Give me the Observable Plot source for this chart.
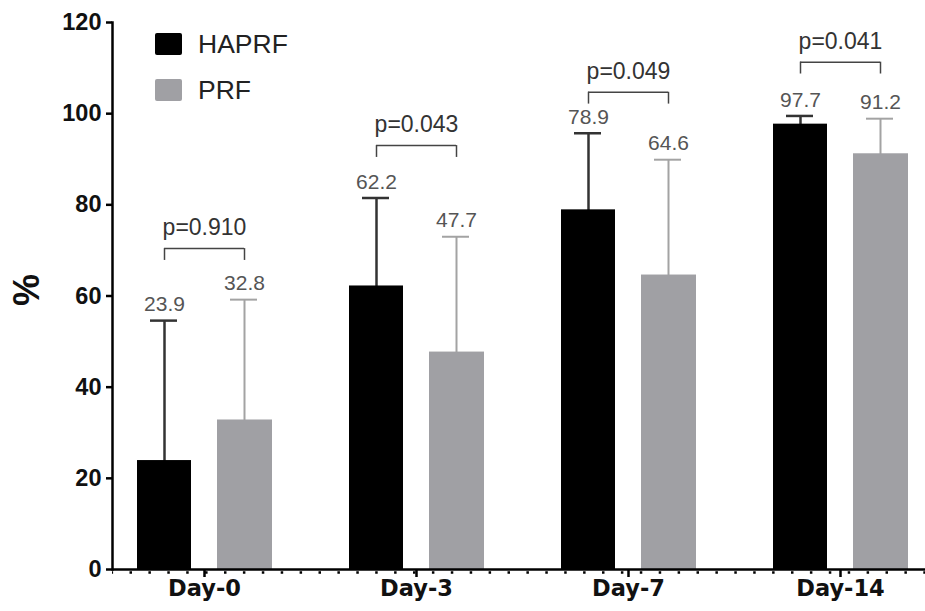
<!DOCTYPE html>
<html>
<head>
<meta charset="utf-8">
<script src="https://cdn.jsdelivr.net/npm/d3@7"></script>
<script src="https://cdn.jsdelivr.net/npm/@observablehq/plot@0.6"></script>
<style>
  body { margin: 0; background: #fff; }
  #wrap { position: relative; width: 925px; height: 611px; font-family: "Liberation Sans", Arial, sans-serif; }
  #wrap svg [aria-label*="y-axis"] path,
  #wrap svg [aria-label*="y-axis"] line,
  #wrap svg [aria-label*="x-axis"] path,
  #wrap svg [aria-label*="x-axis"] line,
  #wrap svg [aria-label="frame"] { stroke-width: 2.5px; stroke: #000; }
  #wrap svg g[aria-label*="y-axis"],
  #wrap svg g[aria-label*="y-axis"] text { font-size: 23.5px; font-weight: bold; fill: #111; font-family: "Liberation Sans", Arial, sans-serif; }
  #wrap svg g[aria-label*="x-axis"],
  #wrap svg g[aria-label*="x-axis"] text { font-size: 22.5px; font-weight: bold; fill: #111; font-family: "DejaVu Sans", sans-serif; }
  .ylab { position: absolute; left: 27px; top: 290px; transform: translate(-50%, -50%) rotate(-90deg); font-weight: bold; font-size: 36px; color: #111; line-height: 1; }
  .legend { position: absolute; left: 155px; top: 32px; font-size: 26.5px; color: #222; }
  .legend .row { display: flex; align-items: center; height: 24px; margin-bottom: 22px; }
  .legend .sw { width: 27px; height: 22px; margin-right: 16px; border-radius: 2px; }
</style>
</head>
<body>
<div id="wrap"></div>
<script>
// ---- data ----
const days = ["Day-0", "Day-3", "Day-7", "Day-14"];
const series = ["HAPRF", "PRF"];
const haprfMean = [23.9, 62.2, 78.9, 97.7];
const haprfErrTop = [54.6, 81.5, 95.7, 99.5];
const prfMean = [32.8, 47.7, 64.6, 91.2];
const prfErrTop = [59.2, 73.0, 89.9, 98.9];
const pLabels = ["p=0.910", "p=0.043", "p=0.049", "p=0.041"];
const bracketY = [70.4, 93.0, 104.7, 111.3];
const yTicks = [0, 20, 40, 60, 80, 100, 120];
const colors = {HAPRF: "#000000", PRF: "#a0a0a4"};
const legLen = 2.6;

const haprf = days.map((day, i) => ({day, mean: haprfMean[i], err: haprfErrTop[i], label: haprfMean[i].toFixed(1)}));
const prf = days.map((day, i) => ({day, mean: prfMean[i], err: prfErrTop[i], label: prfMean[i].toFixed(1)}));
const brackets = days.map((day, i) => ({day, y: bracketY[i], p: pLabels[i]}));

const chart = Plot.plot({
  width: 925,
  height: 611,
  marginLeft: 112,
  marginRight: 0,
  marginTop: 22,
  marginBottom: 42,
  style: {fontFamily: "Liberation Sans, Arial, sans-serif", fontSize: "22px", fontWeight: "bold", color: "#111", background: "white", overflow: "visible"},
  x: {domain: days, range: [98, 946], padding: 0, label: null, tickSize: 8, tickPadding: 3},
  y: {domain: [0, 120], ticks: yTicks, tickSize: 6, tickPadding: 5, label: null, line: true, tickFormat: d => String(d)},
  marks: [
    // error bars (drawn beneath the bars)
    Plot.ruleX(haprf, {x: "day", y1: 0, y2: "err", dx: -40, stroke: "#333", strokeWidth: 2.5}),
    Plot.tickY(haprf, {x: "day", y: "err", insetLeft: 52, insetRight: 133, stroke: "#333", strokeWidth: 2.5}),
    Plot.ruleX(prf, {x: "day", y1: 0, y2: "err", dx: 40, stroke: "#a3a3a3", strokeWidth: 2}),
    Plot.tickY(prf, {x: "day", y: "err", insetLeft: 132, insetRight: 53, stroke: "#a3a3a3", strokeWidth: 2}),
    Plot.barY(haprf, {x: "day", y: "mean", fill: colors.HAPRF, insetLeft: 39, insetRight: 119}),
    Plot.barY(prf, {x: "day", y: "mean", fill: colors.PRF, insetLeft: 119, insetRight: 38}),
    // value labels
    Plot.text(haprf, {x: "day", y: "err", text: "label", dx: -40, dy: -16, fontSize: 21, fontWeight: "normal", fill: "#555"}),
    Plot.text(prf, {x: "day", y: "err", text: "label", dx: 40, dy: -16, fontSize: 21, fontWeight: "normal", fill: "#555"}),
    // significance brackets
    Plot.ruleY(brackets, {y: "y", x1: "day", x2: "day", insetLeft: 66, insetRight: 66, stroke: "#444", strokeWidth: 1.5}),
    Plot.ruleX(brackets, {x: "day", y1: "y", y2: d => d.y - legLen, dx: -40, stroke: "#444", strokeWidth: 1.5}),
    Plot.ruleX(brackets, {x: "day", y1: "y", y2: d => d.y - legLen, dx: 40, stroke: "#444", strokeWidth: 1.5}),
    Plot.text(brackets, {x: "day", y: "y", text: "p", dy: -21, fontSize: 23, fontWeight: "normal", fill: "#333"}),
    // x axis line and minor ticks
    Plot.ruleY([0], {stroke: "#000", strokeWidth: 2.5}),
    Plot.ruleY([0], {stroke: "#000", strokeWidth: 2.5, dy: 3, strokeDasharray: "2.5,16.4", strokeDashoffset: 1.4})
  ]
});

const wrap = document.getElementById("wrap");
wrap.appendChild(chart);

const ylab = document.createElement("div");
ylab.className = "ylab";
ylab.textContent = "%";
wrap.appendChild(ylab);

const legend = document.createElement("div");
legend.className = "legend";
series.forEach(s => {
  const row = document.createElement("div");
  row.className = "row";
  const sw = document.createElement("div");
  sw.className = "sw";
  sw.style.background = colors[s];
  const t = document.createElement("span");
  t.textContent = s;
  row.appendChild(sw);
  row.appendChild(t);
  legend.appendChild(row);
});
wrap.appendChild(legend);
</script>
</body>
</html>
